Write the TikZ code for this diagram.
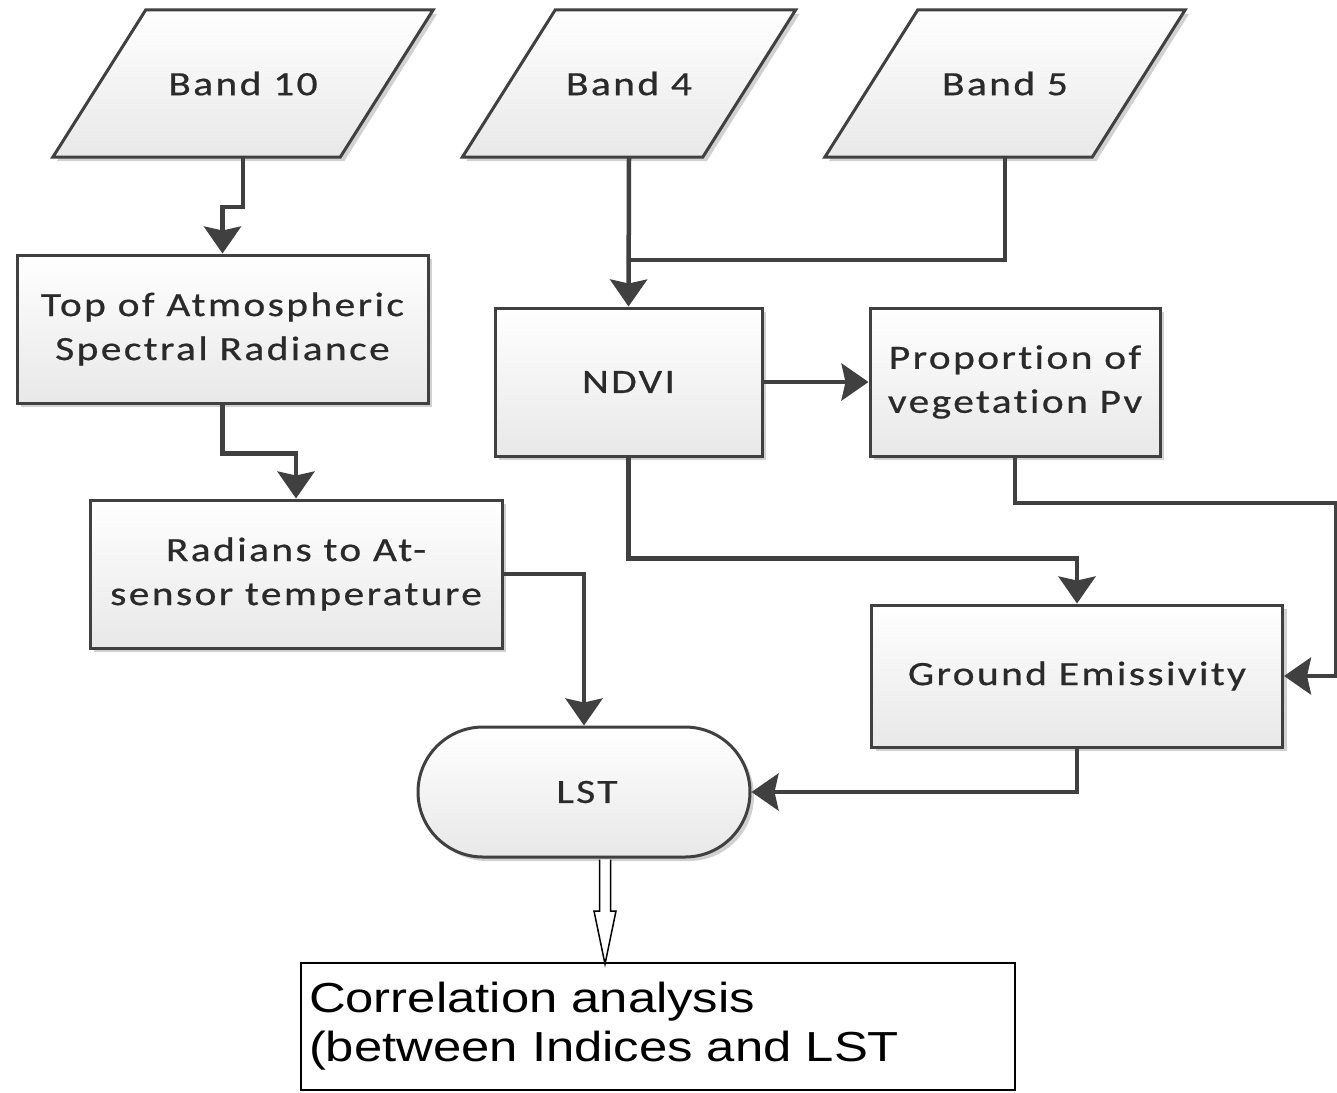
\documentclass[tikz,border=0pt]{standalone}
\usepackage{fontspec}
\usetikzlibrary{arrows.meta,shadows,calc}
\newfontfamily\calib{Carlito}[FakeStretch=1.22,LetterSpace=7,FakeBold=0.6,Ligatures={NoCommon}]
\newfontfamily\arialx{Liberation Sans}[FakeStretch=1.21]
\definecolor{edgegray}{HTML}{404040}
\definecolor{txtgray}{HTML}{2A2A2A}
\definecolor{fillbot}{HTML}{E8E8E8}
\pgfdeclarelayer{bg}
\pgfsetlayers{bg,main}
\tikzset{
  boxlook/.style={draw=edgegray, line width=3pt, top color=white, bottom color=fillbot,
    drop shadow={shadow xshift=4pt, shadow yshift=-4pt, opacity=0.18, fill=black}},
  boxtext/.style={text=txtgray, font=\calib\fontsize{34}{44}\selectfont, align=center, inner sep=0pt},
  procbox/.style={boxlook, boxtext, rectangle},
  bandbox/.style={boxtext, rectangle, minimum height=147},
  termbox/.style={boxlook, boxtext, rectangle, rounded corners=65pt},
  corrbox/.style={draw=black, line width=2pt, fill=white, rectangle, text=black,
    font=\arialx\fontsize{42}{49}\selectfont, align=left, text width=698, inner xsep=8pt, inner ysep=0pt},
  conn/.style={draw=edgegray, line width=4.5pt},
  arr/.style={conn, -{Stealth[length=27pt,width=37pt,inset=4pt]}},
  hollow/.style={draw=black, line width=1.5pt, fill=white},
}
\begin{document}
\begin{tikzpicture}[x=1pt,y=-1pt]
\useasboundingbox (0,0) rectangle (1337,1092);
\begin{pgfonlayer}{bg}
\fill[white] (0,0) rectangle (1337,1092);
\end{pgfonlayer}

\node[bandbox, minimum width=287] (b10) at (243,83.5) {Band 10};
\node[bandbox, minimum width=240] (b4) at (629,83.5) {Band 4};
\node[bandbox, minimum width=267] (b5) at (1005,83.5) {Band 5};
\begin{pgfonlayer}{bg}
\foreach \b in {b10,b4,b5}{
  \path[boxlook] ([xshift=46.5pt]\b.north west) -- ([xshift=46.5pt]\b.north east)
    -- ([xshift=-46.5pt]\b.south east) -- ([xshift=-46.5pt]\b.south west) -- cycle;
}
\end{pgfonlayer}
\node[procbox, minimum width=411, minimum height=148] (toa) at (222.5,329) {Top of Atmospheric\\Spectral Radiance};
\node[procbox, minimum width=412, minimum height=148] (rad) at (296,574) {Radians to At-\\sensor temperature};
\node[procbox, minimum width=267, minimum height=148] (ndvi) at (628.5,382) {NDVI};
\node[procbox, minimum width=290, minimum height=148] (pv) at (1015,382) {Proportion of\\vegetation Pv};
\node[procbox, minimum width=411, minimum height=142] (ge) at (1077,676) {Ground Emissivity};
\node[termbox, minimum width=332, minimum height=130] (lst) at (584,792) {\hspace*{6pt}LST};
\node[corrbox, minimum width=714, minimum height=127] (corr) at (658,1026.5) {Correlation analysis\\(between Indices and LST};

\coordinate (j1) at (b4.south |- 0,260);
\coordinate (redge) at (1336.5,503);

\draw[arr] (b10.south) -- ++(0,50) -| (toa.north);
\draw[arr] (toa.south) -- ++(0,49) -| (rad.north);
\draw[arr] (rad.east) -| (lst.north);
\draw[arr] (b4.south) -- (ndvi.north);
\draw[conn] (b5.south) |- (j1);
\draw[arr] (ndvi.east) -- (pv.west);
\draw[arr] (pv.south) |- (redge) |- (ge.east);
\draw[arr] (ndvi.south) -- ++(0,101) -| (ge.north);
\draw[arr] (ge.south) |- (lst.east);

\coordinate (hs) at ([xshift=21pt]lst.south);
\coordinate (he) at (hs |- corr.north);
\draw[hollow] ($(hs)+(-5.5,1)$) -- ($(he)+(-5.5,-51)$) -- ($(he)+(-11,-51)$) -- ($(he)+(0,2)$)
  -- ($(he)+(11,-51)$) -- ($(he)+(5.5,-51)$) -- ($(hs)+(5.5,1)$);
\end{tikzpicture}
\end{document}
